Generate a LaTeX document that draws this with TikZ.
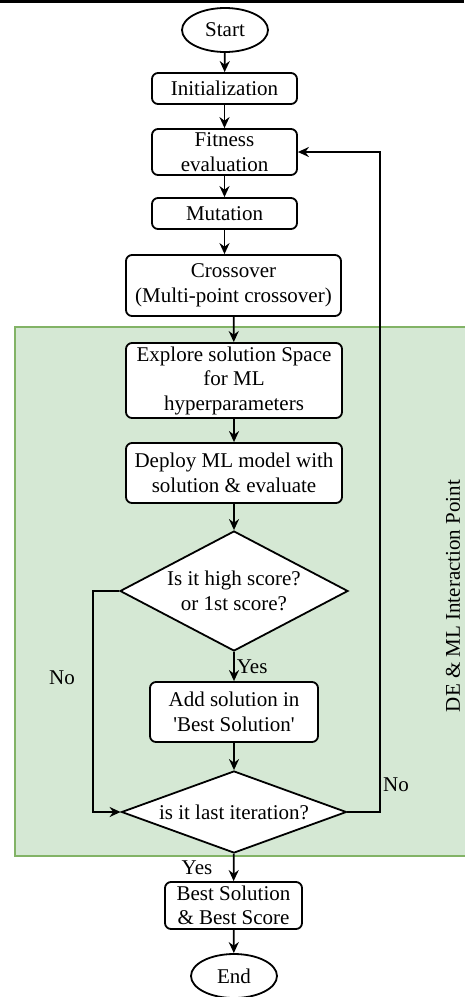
\documentclass[tikz,border=0pt]{standalone}
\usepackage{fontspec}
\setmainfont{Liberation Serif}
\usepackage{xcolor}
\usetikzlibrary{
    shapes.geometric,
    arrows.meta,
    positioning
}
\definecolor{zonefill}{HTML}{D5E8D4}
\definecolor{zoneline}{HTML}{82B366}
\tikzset{
    txt/.style={font=\fontsize{21}{24.5}\selectfont},
    block/.style={txt, draw, rectangle, rounded corners=6pt, fill=white,
        line width=1.8pt, align=center, inner sep=1pt},
    decision/.style={txt, draw, diamond, fill=white, line width=1.8pt,
        align=center, inner sep=0pt},
    terminal/.style={txt, draw, ellipse, fill=white, line width=1.8pt,
        minimum width=86pt, minimum height=44pt, inner sep=0pt},
    flow/.style={line width=1.8pt, -{Stealth[length=11pt, width=10pt]}}
}

\begin{document}
\begin{tikzpicture}[x=1pt, y=-1pt]
    \useasboundingbox (0, 0) rectangle (464, 997);
    \fill (0, 0) rectangle (464, 3);
    % DE / ML zone
    \draw[draw=zoneline, fill=zonefill, line width=1.2pt] (15, 327) rectangle (470, 856);
    \node[txt, rotate=90] (zone) at (453, 596) {DE \& ML Interaction Point};

    \node[terminal] (start) at (225, 30) {Start};
    \node[block, minimum width=145pt, minimum height=31pt] (init) at (224.5, 88.5) {Initialization};
    \node[block, minimum width=145pt, minimum height=46pt] (fitness) at (224.5, 152) {Fitness\\evaluation};
    \node[block, minimum width=145pt, minimum height=31pt] (mutation) at (224.5, 213.5) {Mutation};
    \node[block, minimum width=215pt, minimum height=61pt] (crossover) at (233.5, 285.5) {Crossover\\(Multi-point crossover)};
    \node[block, minimum width=216pt, minimum height=75pt] (explore) at (234, 380.5) {Explore solution Space\\for ML\\hyperparameters};
    \node[block, minimum width=216pt, minimum height=60pt] (deploy) at (234, 473) {Deploy ML model with\\solution \& evaluate};
    \node[decision, aspect=1.9, minimum width=228pt, minimum height=120pt] (highscore) at (234, 591) {Is it high score?\\or 1st score?};
    \node[block, minimum width=168pt, minimum height=60pt] (addsol) at (234, 712) {Add solution in\\\textquotesingle Best Solution\textquotesingle};
    \node[decision, aspect=2.78, minimum width=225pt, minimum height=82pt] (lastiter) at (234, 812) {is it last iteration?};
    \node[block, minimum width=137pt, minimum height=47pt] (best) at (233.5, 905.5) {Best Solution\\\& Best Score};
    \node[terminal] (stop) at (234, 976) {End};

    \coordinate (noleft) at (93, 591);
    \coordinate (noright) at (380, 812);

    \draw[flow] (start) -- (init);
    \draw[flow] (init) -- (fitness);
    \draw[flow] (fitness) -- (mutation);
    \draw[flow] (mutation.south) -- (mutation.south |- crossover.north);
    \draw[flow] (crossover) -- (explore);
    \draw[flow] (explore) -- (deploy);
    \draw[flow] (deploy) -- (highscore);
    \draw[flow] (highscore) -- node[txt, right, inner sep=2pt] (yes1) {Yes} (addsol);
    \draw[flow] (addsol) -- (lastiter);
    \draw[flow] (highscore.west) -- (noleft) |- (lastiter.west);
    \draw[flow] (lastiter.east) -- (noright) |- (fitness.east);
    \draw[flow] (lastiter) -- (best);
    \draw[flow] (best) -- (stop);

    \node[txt] (no1) at (62, 678) {No};
    \node[txt] (no2) at (396, 785) {No};
    \node[txt] (yes2) at (197, 868) {Yes};
\end{tikzpicture}
\end{document}
